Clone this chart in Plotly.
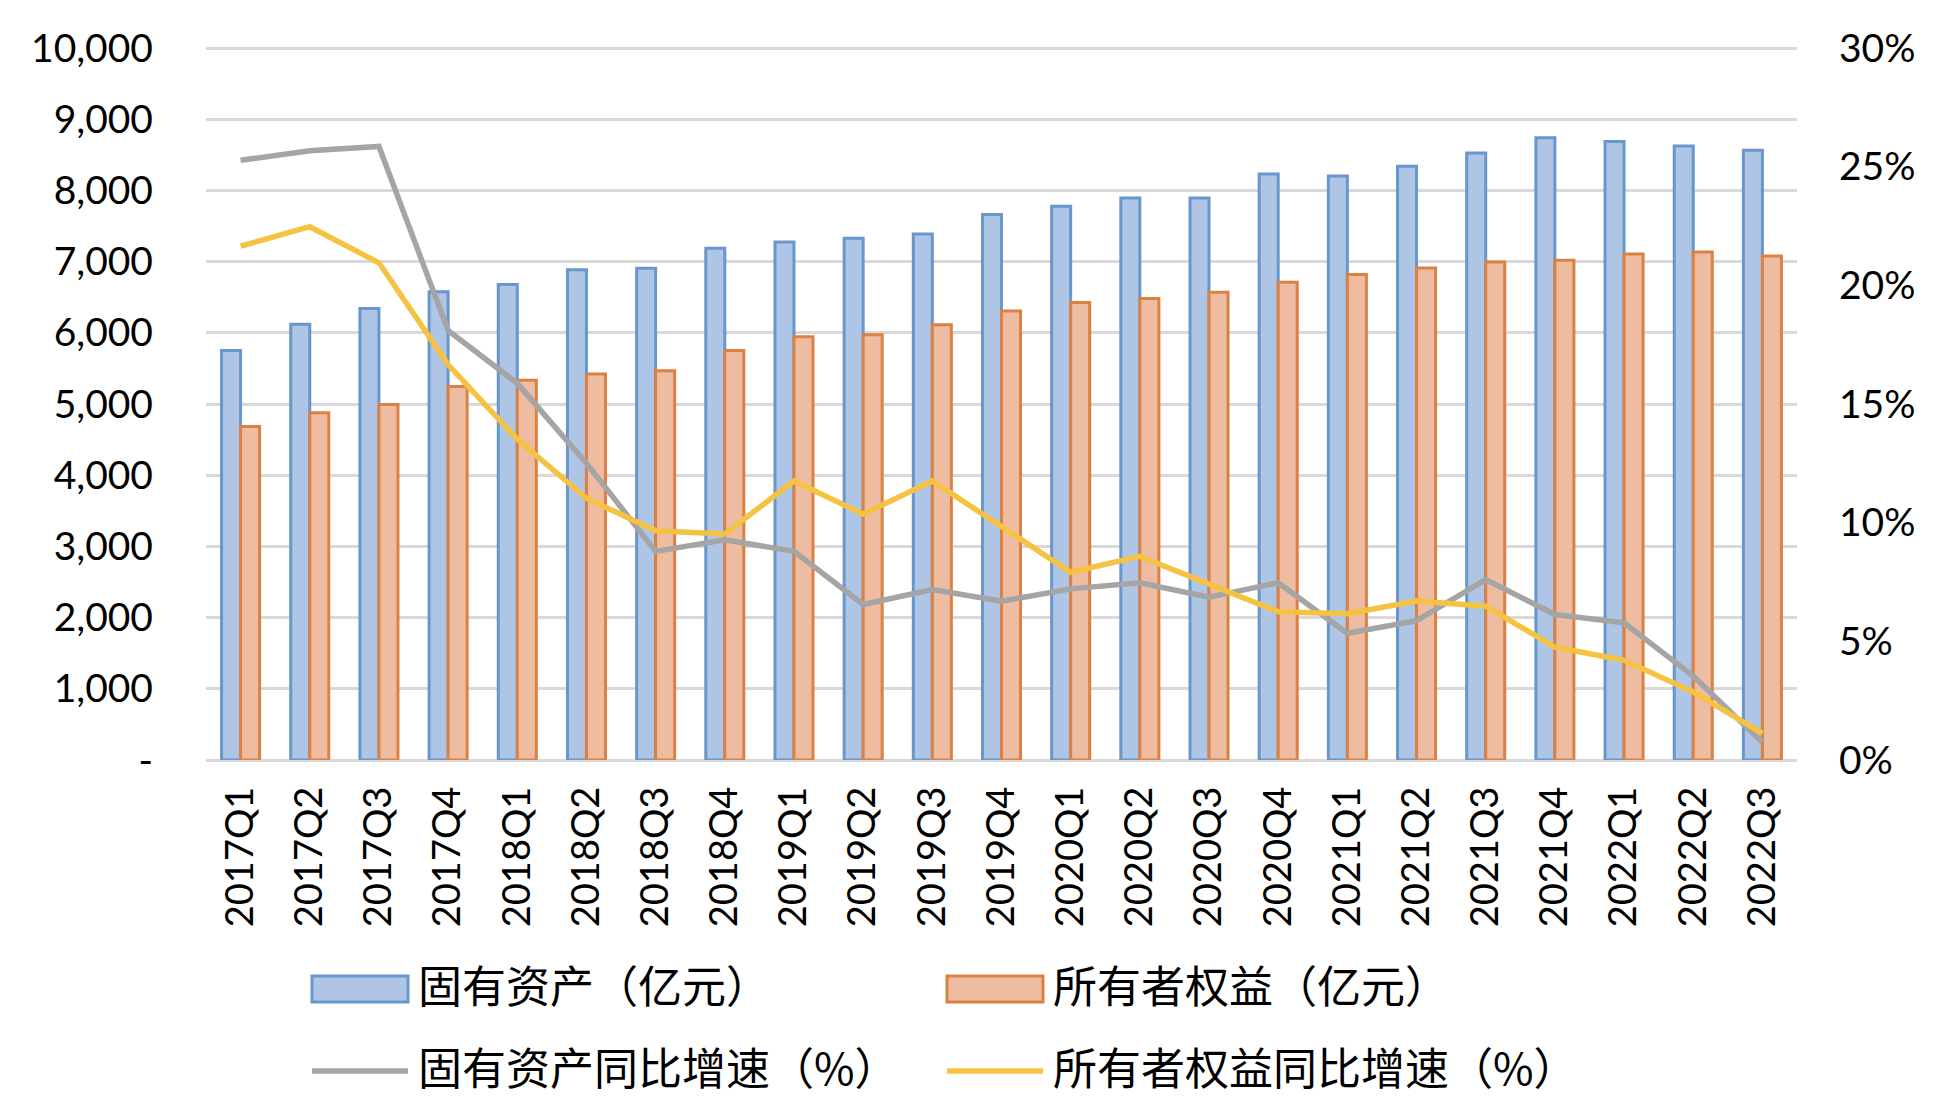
import plotly.graph_objects as go

categories = ['2017Q1', '2017Q2', '2017Q3', '2017Q4', '2018Q1', '2018Q2', '2018Q3', '2018Q4',
              '2019Q1', '2019Q2', '2019Q3', '2019Q4', '2020Q1', '2020Q2', '2020Q3', '2020Q4',
              '2021Q1', '2021Q2', '2021Q3', '2021Q4', '2022Q1', '2022Q2', '2022Q3']

fixed_assets = [5750, 6120, 6342, 6575, 6680, 6885, 6908, 7188, 7275, 7328, 7386, 7660,
                7777, 7894, 7894, 8232, 8203, 8340, 8524, 8740, 8687, 8623, 8565]
owner_equity = [4685, 4877, 4994, 5245, 5333, 5420, 5467, 5753, 5945, 5974, 6114, 6307,
                6424, 6482, 6569, 6709, 6820, 6910, 6995, 7019, 7106, 7135, 7077]
fixed_assets_growth = [25.27, 25.67, 25.85, 18.10, 15.87, 12.50, 8.79, 9.28, 8.79, 6.55, 7.18, 6.69,
                       7.21, 7.47, 6.86, 7.47, 5.34, 5.87, 7.60, 6.13, 5.78, 3.54, 0.74]
owner_equity_growth = [21.65, 22.47, 20.95, 16.66, 13.51, 11.03, 9.66, 9.52, 11.76, 10.36, 11.76, 9.85,
                       7.91, 8.58, 7.39, 6.25, 6.16, 6.70, 6.48, 4.76, 4.20, 2.87, 1.12]

left_tickvals = [0, 1000, 2000, 3000, 4000, 5000, 6000, 7000, 8000, 9000, 10000]
left_ticktext = ['-', '1,000', '2,000', '3,000', '4,000', '5,000', '6,000', '7,000', '8,000', '9,000', '10,000']
right_tickvals = [0, 5, 10, 15, 20, 25, 30]
right_ticktext = ['0%', '5%', '10%', '15%', '20%', '25%', '30%']

series_names = ['固有资产（亿元）', '所有者权益（亿元）', '固有资产同比增速（%）', '所有者权益同比增速（%）']

BLUE_FILL, BLUE_LINE = '#AEC5E6', '#6897CD'
ORANGE_FILL, ORANGE_LINE = '#EEBCA1', '#DB8144'
GRAY, YELLOW = '#A5A5A5', '#F5C242'
GRID = '#D9D9D9'
NUM_FONT = 'Lato'
CJK_FONT = 'Noto Sans CJK SC'

OFF = 8  # default page body margin
W, H = 1952 - 2 * OFF, 1106 - 2 * OFF
EXTRA = 2  # px of headroom so the top gridline is not clipped at the plot edge
L, T = 206 - OFF, 48 - OFF - EXTRA
PW, PH = 1591, 712 + EXTRA
R, B = W - L - PW, H - T - PH
Y_TOP = 10000 * PH / 712
Y2_TOP = 30 * PH / 712

fig = go.Figure()
fig.add_trace(go.Bar(x=categories, y=fixed_assets, name=series_names[0],
                     marker=dict(color=BLUE_FILL, line=dict(color=BLUE_LINE, width=3))))
fig.add_trace(go.Bar(x=categories, y=owner_equity, name=series_names[1],
                     marker=dict(color=ORANGE_FILL, line=dict(color=ORANGE_LINE, width=3))))
fig.add_trace(go.Scatter(x=categories, y=fixed_assets_growth, name=series_names[2], yaxis='y2',
                         mode='lines', line=dict(color=GRAY, width=5.5)))
fig.add_trace(go.Scatter(x=categories, y=owner_equity_growth, name=series_names[3], yaxis='y2',
                         mode='lines', line=dict(color=YELLOW, width=5.5)))

# custom legend: screenshot pixel positions converted to paper coordinates
def px(xs):
    return (xs - OFF - L) / PW

def py(ys):
    return (T + PH - (ys - OFF)) / PH

legend_items = [
    (series_names[0], 312, 989, 'bar', BLUE_FILL, BLUE_LINE),
    (series_names[1], 947, 989, 'bar', ORANGE_FILL, ORANGE_LINE),
    (series_names[2], 312, 1071, 'line', GRAY, GRAY),
    (series_names[3], 947, 1071, 'line', YELLOW, YELLOW),
]
shapes = []
annotations = []
for name, x0, yc, kind, fill, edge in legend_items:
    if kind == 'bar':
        shapes.append(dict(type='rect', xref='paper', yref='paper',
                           x0=px(x0), x1=px(x0 + 96), y0=py(yc - 13), y1=py(yc + 13),
                           fillcolor=fill, line=dict(color=edge, width=3)))
    else:
        shapes.append(dict(type='line', xref='paper', yref='paper',
                           x0=px(x0), x1=px(x0 + 96), y0=py(yc), y1=py(yc),
                           line=dict(color=edge, width=5.5)))
    annotations.append(dict(text=name, xref='paper', yref='paper', x=px(x0 + 104), y=py(yc - 5),
                            xanchor='left', yanchor='middle', showarrow=False,
                            font=dict(family=CJK_FONT, size=44, color='#000000')))

fig.update_layout(
    width=W, height=H,
    margin=dict(l=L, r=R, t=T, b=B, autoexpand=False),
    paper_bgcolor='white', plot_bgcolor='white',
    barmode='group', bargap=0.45, bargroupgap=0,
    showlegend=False,
    shapes=shapes, annotations=annotations,
    xaxis=dict(type='category', tickangle=-90, showgrid=False, ticks='', showline=False,
               tickfont=dict(family=NUM_FONT, size=38, color='#000000'),
               ticklabelstandoff=18),
    yaxis=dict(range=[0, Y_TOP], tickvals=left_tickvals, ticktext=left_ticktext,
               showgrid=True, gridcolor=GRID, gridwidth=2.5,
               zeroline=True, zerolinecolor=GRID, zerolinewidth=2.5,
               ticks='', showline=False,
               tickfont=dict(family=NUM_FONT, size=39, color='#000000'),
               ticklabelstandoff=52),
    yaxis2=dict(range=[0, Y2_TOP], tickvals=right_tickvals, ticktext=right_ticktext,
                overlaying='y', side='right',
                showgrid=False, zeroline=False, ticks='', showline=False,
                tickfont=dict(family=NUM_FONT, size=39, color='#000000'),
                ticklabelstandoff=41),
)

fig.write_html('out.html')
